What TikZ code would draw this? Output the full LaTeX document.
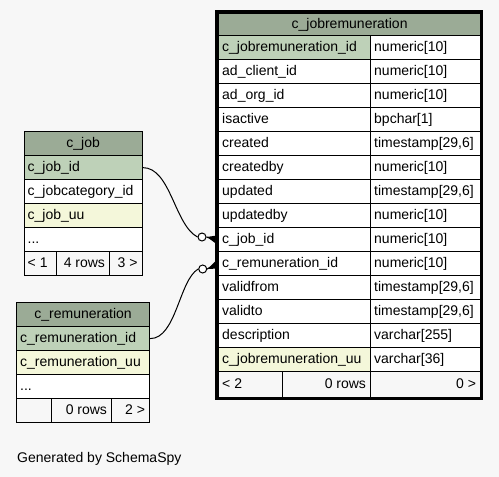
\documentclass[tikz,border=0pt]{standalone}
\usepackage{fontspec}
\setmainfont{Liberation Sans}
\usetikzlibrary{calc}
\definecolor{hdr}{HTML}{9BAB96}
\definecolor{pkc}{HTML}{BED1B8}
\definecolor{uuc}{HTML}{F4F7DA}
\definecolor{bgc}{HTML}{F7F7F7}
\tikzset{
 cell/.style={draw=black, line width=1.2pt, anchor=north west, inner sep=0pt},
 txt/.style={inner sep=0pt, text height=10pt, text depth=3pt, font=\fontsize{14}{16}\selectfont},
 conn/.style={line width=1pt},
 odot/.style={circle, draw, fill=white, line width=1pt, minimum size=8pt, inner sep=0pt},
 outerbox/.style={draw=black, line width=3pt},
 crowfoot/.style={line width=1.2pt, line join=miter},
}
\newcommand\lcell[7]{\node[cell, fill=#6, minimum width=#4pt, minimum height=#5pt] (#1) at (#2,#3) {};
 \node[txt, anchor=west] (#1-t) at ([xshift=4pt]#1.west) {#7};}
\newcommand\rcell[7]{\node[cell, fill=#6, minimum width=#4pt, minimum height=#5pt] (#1) at (#2,#3) {};
 \node[txt, anchor=east] (#1-t) at ([xshift=-5pt]#1.east) {#7};}
\newcommand\ccell[7]{\node[cell, fill=#6, minimum width=#4pt, minimum height=#5pt] (#1) at (#2,#3) {};
 \node[txt] (#1-t) at (#1.center) {#7};}
\begin{document}
\begin{tikzpicture}[x=1pt, y=-1pt]
\useasboundingbox (0,0) rectangle (499,477);
\fill[bgc] (0,0) rectangle (499,477);
% c_job
\ccell{cjh}{23.5}{131}{118}{24}{hdr}{c\_job}
\lcell{cj1}{23.5}{155}{118}{24}{pkc}{c\_job\_id}
\lcell{cj2}{23.5}{179}{118}{24}{white}{c\_jobcategory\_id}
\lcell{cj3}{23.5}{203}{118}{24}{uuc}{c\_job\_uu}
\lcell{cj4}{23.5}{227}{118}{24}{white}{...}
\lcell{cjf1}{23.5}{251}{32.5}{24}{bgc}{< 1}
\rcell{cjf2}{56}{251}{53}{24}{bgc}{4 rows}
\rcell{cjf3}{109}{251}{32.5}{24}{bgc}{3 >}
% c_remuneration
\ccell{crh}{16}{302}{133}{24}{hdr}{c\_remuneration}
\lcell{cr1}{16}{326}{133}{24}{pkc}{c\_remuneration\_id}
\lcell{cr2}{16}{350}{133}{24}{uuc}{c\_remuneration\_uu}
\lcell{cr3}{16}{374}{133}{24}{white}{...}
\lcell{crf1}{16}{398}{35}{24}{bgc}{}
\rcell{crf2}{51}{398}{60}{24}{bgc}{0 rows}
\rcell{crf3}{111}{398}{38}{24}{bgc}{2 >}
% c_jobremuneration
\ccell{jrh}{218}{13}{262}{22}{hdr}{c\_jobremuneration}
\lcell{jr0a}{218}{35}{152}{24}{pkc}{c\_jobremuneration\_id}
\lcell{jr0b}{370}{35}{110}{24}{white}{numeric[10]}
\lcell{jr1a}{218}{59}{152}{24}{white}{ad\_client\_id}
\lcell{jr1b}{370}{59}{110}{24}{white}{numeric[10]}
\lcell{jr2a}{218}{83}{152}{24}{white}{ad\_org\_id}
\lcell{jr2b}{370}{83}{110}{24}{white}{numeric[10]}
\lcell{jr3a}{218}{107}{152}{24}{white}{isactive}
\lcell{jr3b}{370}{107}{110}{24}{white}{bpchar[1]}
\lcell{jr4a}{218}{131}{152}{24}{white}{created}
\lcell{jr4b}{370}{131}{110}{24}{white}{timestamp[29,6]}
\lcell{jr5a}{218}{155}{152}{24}{white}{createdby}
\lcell{jr5b}{370}{155}{110}{24}{white}{numeric[10]}
\lcell{jr6a}{218}{179}{152}{24}{white}{updated}
\lcell{jr6b}{370}{179}{110}{24}{white}{timestamp[29,6]}
\lcell{jr7a}{218}{203}{152}{24}{white}{updatedby}
\lcell{jr7b}{370}{203}{110}{24}{white}{numeric[10]}
\lcell{jr8a}{218}{227}{152}{24}{white}{c\_job\_id}
\lcell{jr8b}{370}{227}{110}{24}{white}{numeric[10]}
\lcell{jr9a}{218}{251}{152}{24}{white}{c\_remuneration\_id}
\lcell{jr9b}{370}{251}{110}{24}{white}{numeric[10]}
\lcell{jr10a}{218}{275}{152}{24}{white}{validfrom}
\lcell{jr10b}{370}{275}{110}{24}{white}{timestamp[29,6]}
\lcell{jr11a}{218}{299}{152}{24}{white}{validto}
\lcell{jr11b}{370}{299}{110}{24}{white}{timestamp[29,6]}
\lcell{jr12a}{218}{323}{152}{24}{white}{description}
\lcell{jr12b}{370}{323}{110}{24}{white}{varchar[255]}
\lcell{jr13a}{218}{347}{152}{24}{uuc}{c\_jobremuneration\_uu}
\lcell{jr13b}{370}{347}{110}{24}{white}{varchar[36]}
\lcell{jrf1}{218}{371}{64}{26}{bgc}{< 2}
\rcell{jrf2}{282}{371}{88}{26}{bgc}{0 rows}
\rcell{jrf3}{370}{371}{110}{26}{bgc}{0 >}
\draw[outerbox] (216.5,11.5) rectangle (481,398.5);
% connectors
\node[odot] (o1) at (202,237) {};
\node[odot] (o2) at (202.7,269) {};
\draw[conn] (cj1.east) .. controls +(28,0) and +(-23,-12) .. (o1.west);
\draw[conn] (cr1.east) .. controls +(26,0) and +(-19,11) .. (o2.west);
\fill ([xshift=0.5pt]o1.east) -- ([xshift=-2pt,yshift=4pt]jr8a.west) -- ([xshift=-2pt,yshift=-4pt]jr8a.west) -- cycle;
\draw[crowfoot] (o1.east) -- ([xshift=-3pt]jr8a.west);
\fill ([xshift=0.5pt]o2.east) -- ([xshift=-2pt,yshift=3pt]jr9a.west) -- ([xshift=-2pt,yshift=-5pt]jr9a.west) -- cycle;
\draw[crowfoot] (o2.east) -- ([xshift=-3pt,yshift=-1pt]jr9a.west);
\node[txt, anchor=base west] (gen) at (17,462) {Generated by SchemaSpy};
\end{tikzpicture}
\end{document}
